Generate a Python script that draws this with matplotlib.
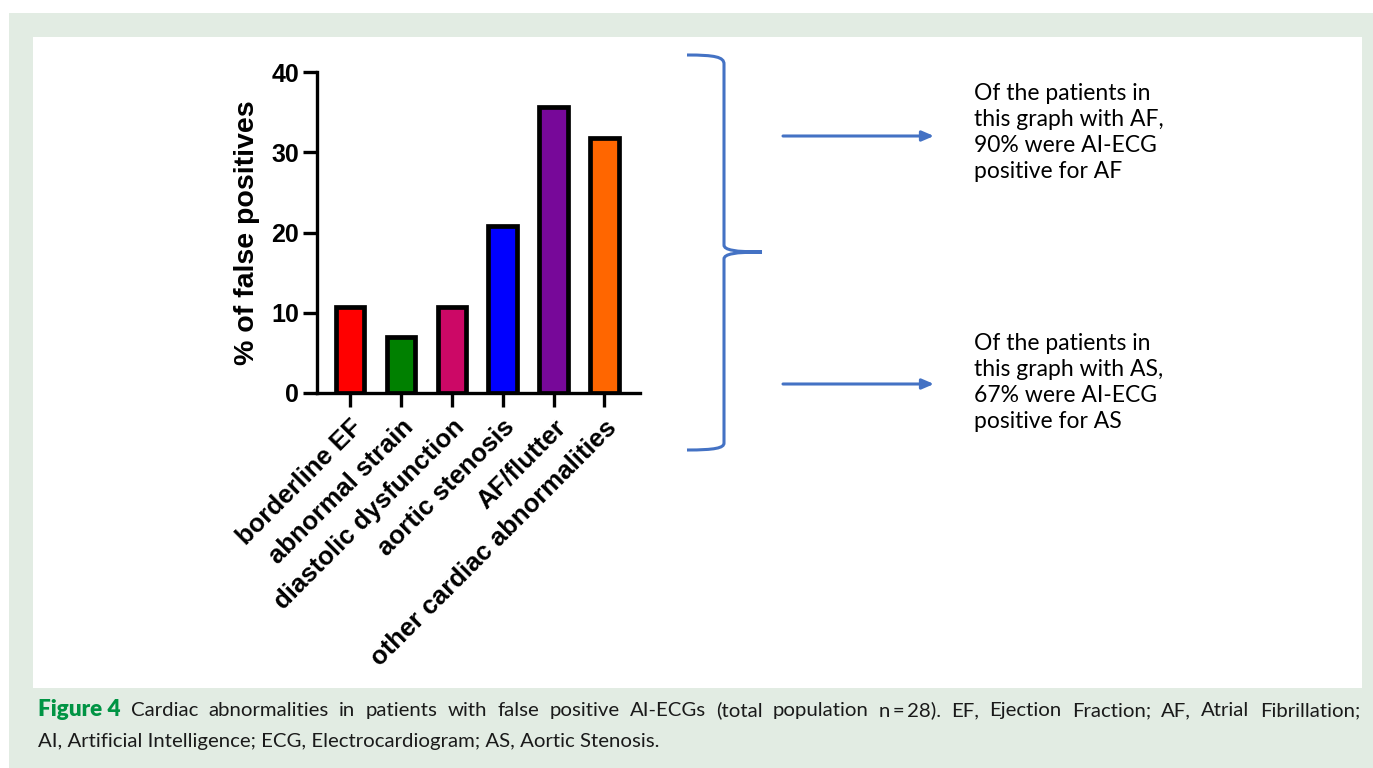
import numpy as np
import matplotlib
matplotlib.use("Agg")
import matplotlib.pyplot as plt
from matplotlib.path import Path
from matplotlib.patches import PathPatch, Rectangle

# data
categories = ["borderline EF", "abnormal strain", "diastolic dysfunction",
              "aortic stenosis", "AF/flutter", "other cardiac abnormalities"]
values = [10.7, 7.0, 10.7, 20.8, 35.7, 31.8]
bar_colors = ["#ff0000", "#008000", "#cc0866", "#0000ff", "#770899", "#ff6600"]
yticks = [0, 10, 20, 30, 40]

note_af = "Of the patients in\nthis graph with AF,\n90% were AI-ECG\npositive for AF"
note_as = "Of the patients in\nthis graph with AS,\n67% were AI-ECG\npositive for AS"
cap_bold = "Figure 4"
cap_line1 = ("Cardiac abnormalities in patients with false positive AI-ECGs "
             "(total population n\u2009=\u200928). EF, Ejection Fraction; AF, Atrial Fibrillation;")
cap_line2 = "AI, Artificial Intelligence; ECG, Electrocardiogram; AS, Aortic Stenosis."

W, H = 1373, 768
fig = plt.figure(figsize=(W / 100, H / 100), dpi=100)

# background panel in pixel coords
bg = fig.add_axes([0, 0, 1, 1])
bg.set_xlim(0, W)
bg.set_ylim(H, 0)
bg.axis("off")
bg.add_patch(Rectangle((9, 13), W - 9, H - 13, color="#e2ece3", lw=0))
bg.add_patch(Rectangle((33, 37), 1362 - 33, 688 - 37, color="white", lw=0))

# bar chart
ax = fig.add_axes([317 / W, 1 - 393 / H, (640 - 317) / W, (393 - 72) / H])
ax.set_facecolor("none")
x = np.arange(len(categories))
ax.bar(x, values, width=0.56, color=bar_colors, edgecolor="black", linewidth=3.4, zorder=3)
ax.set_xlim(-0.65, 5.7)
ax.set_ylim(0, 40)
ax.set_yticks(yticks)
ax.set_xticks(x)
ax.set_xticklabels(categories, rotation=45, ha="right", rotation_mode="anchor",
                   fontsize=18.5, fontweight="bold", family="Liberation Sans")
for lab in ax.get_yticklabels():
    lab.set_fontsize(18)
    lab.set_fontweight("bold")
    lab.set_family("Liberation Sans")
ax.tick_params(axis="both", width=2.4, length=10, direction="out")
ax.tick_params(axis="x", pad=6)
ax.tick_params(axis="y", pad=3)
ax.spines["top"].set_visible(False)
ax.spines["right"].set_visible(False)
ax.spines["left"].set_linewidth(2.4)
ax.spines["bottom"].set_linewidth(2.4)
ax.set_ylabel("% of false positives", fontsize=20.5, fontweight="bold",
              family="Liberation Sans", labelpad=8)

# curly brace
blue = "#4472c4"
verts = [(687, 55), (715, 55), (724, 57), (724, 64),
         (724, 245), (724, 250), (735, 252), (762, 252),
         (735, 252), (724, 254), (724, 259),
         (724, 443), (724, 448), (715, 450), (687, 450)]
codes = [Path.MOVETO, Path.CURVE4, Path.CURVE4, Path.CURVE4,
         Path.LINETO, Path.CURVE4, Path.CURVE4, Path.CURVE4,
         Path.CURVE4, Path.CURVE4, Path.CURVE4,
         Path.LINETO, Path.CURVE4, Path.CURVE4, Path.CURVE4]
bg.add_patch(PathPatch(Path(verts, codes), fill=False, edgecolor=blue, lw=2.2))

for yy in (136, 384):
    bg.annotate("", xy=(934, yy), xytext=(783, yy),
                arrowprops=dict(arrowstyle="-|>,head_length=0.7,head_width=0.3",
                                color=blue, lw=2.2, shrinkA=0, shrinkB=0))

bg.text(974, 83, note_af, fontsize=16.5, family="Lato", va="top", ha="left",
        linespacing=1.3, color="black")
bg.text(974, 333, note_as, fontsize=16.5, family="Lato", va="top", ha="left",
        linespacing=1.3, color="black")

# caption, first line justified
renderer = fig.canvas.get_renderer()
cap_fs = 14.7
words = [(cap_bold, True)] + [(w, False) for w in cap_line1.split(" ")]
texts = []
for w, b in words:
    t = bg.text(0, 716, w, fontsize=cap_fs + 1.5 if b else cap_fs, family="Lato",
                fontweight="heavy" if b else "normal",
                color="#009444" if b else "#1a1a1a", va="baseline", ha="left")
    texts.append(t)
widths = [t.get_window_extent(renderer).width for t in texts]
x0, x1 = 38, 1360
gap = (x1 - x0 - sum(widths)) / (len(texts) - 1)
cx = x0
for t, wd in zip(texts, widths):
    t.set_x(cx)
    cx += wd + gap
bg.text(38, 747, cap_line2, fontsize=cap_fs, family="Lato", color="#1a1a1a",
        va="baseline", ha="left")

fig.savefig("out.png", dpi=100)
